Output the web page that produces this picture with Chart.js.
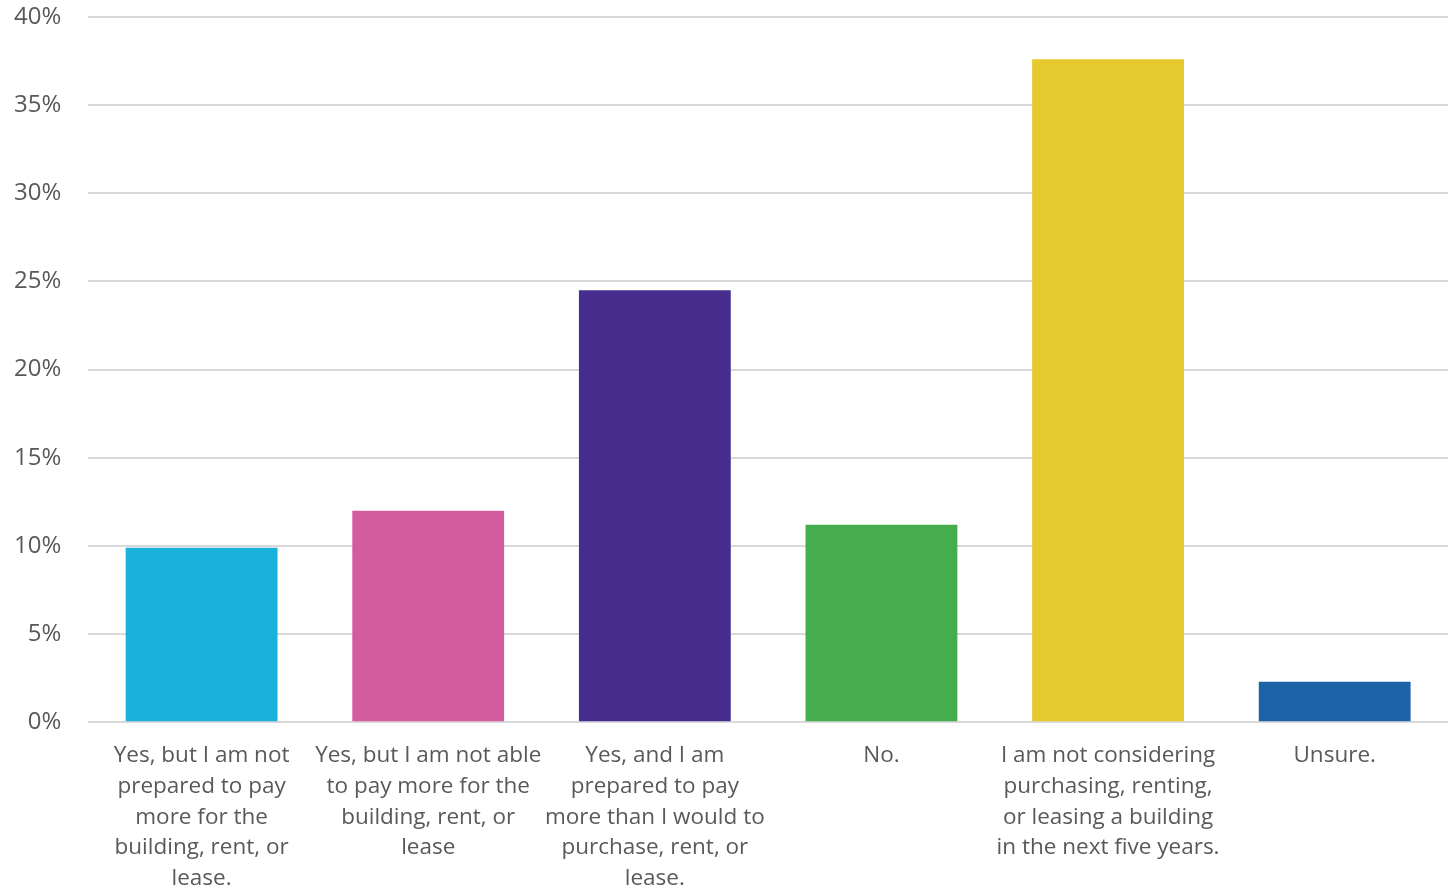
<!DOCTYPE html>
<html>
<head>
<meta charset="utf-8">
<script src="https://cdn.jsdelivr.net/npm/chart.js@4"></script>
<style>
  html, body { margin: 0; padding: 0; background: #fff; }
  #wrap { width: 1455px; height: 888px; }
</style>
</head>
<body>
<div id="wrap"><canvas id="chart"></canvas></div>
<script>
const labels = [
    ['Yes, but I am not', 'prepared to pay', 'more for the', 'building, rent, or', 'lease.'],
    ['Yes, but I am not able', 'to pay more for the', 'building, rent, or', 'lease'],
    ['Yes, and I am', 'prepared to pay', 'more than I would to', 'purchase, rent, or', 'lease.'],
    ['No.'],
    ['I am not considering', 'purchasing, renting,', 'or leasing a building', 'in the next five years.'],
    ['Unsure.']
]
const values = [9.9, 12.0, 24.5, 11.2, 37.6, 2.3]
const colors = ['#1ab1dc', '#d35b9e', '#472d8e', '#45ad4d', '#e5c92d', '#1c64a8']

const chartElm = document.getElementById('chart')

new Chart(chartElm, {
    type: 'bar',
    data: {
        labels: labels,
        datasets: [{
            data: values,
            backgroundColor: colors,
            borderWidth: 0,
            categoryPercentage: 1,
            barPercentage: 0.67
        }]
    },
    options: {
        responsive: true,
        maintainAspectRatio: false,
        animation: false,
        layout: { padding: { top: 17, right: 7, bottom: -24, left: -13 } },
        plugins: {
            legend: { display: false },
            tooltip: { enabled: false }
        },
        scales: {
            x: {
                grid: { display: false, drawTicks: false },
                border: { display: false },
                ticks: {
                    color: '#595959',
                    font: { family: 'Open Sans', size: 22.5, lineHeight: 1.367 },
                    padding: 18,
                    maxRotation: 0,
                    autoSkip: false
                }
            },
            y: {
                min: 0,
                max: 40,
                grid: { color: '#d9d9d9', lineWidth: 2, drawTicks: false },
                border: { display: false },
                ticks: {
                    stepSize: 5,
                    color: '#595959',
                    font: { family: 'Open Sans', size: 24 },
                    padding: 27,
                    callback: v => v + '%'
                },
                // let the top label hang over the padding like the original
                afterFit: scale => { scale.paddingTop = 0 }
            }
        }
    }
})
</script>
</body>
</html>
